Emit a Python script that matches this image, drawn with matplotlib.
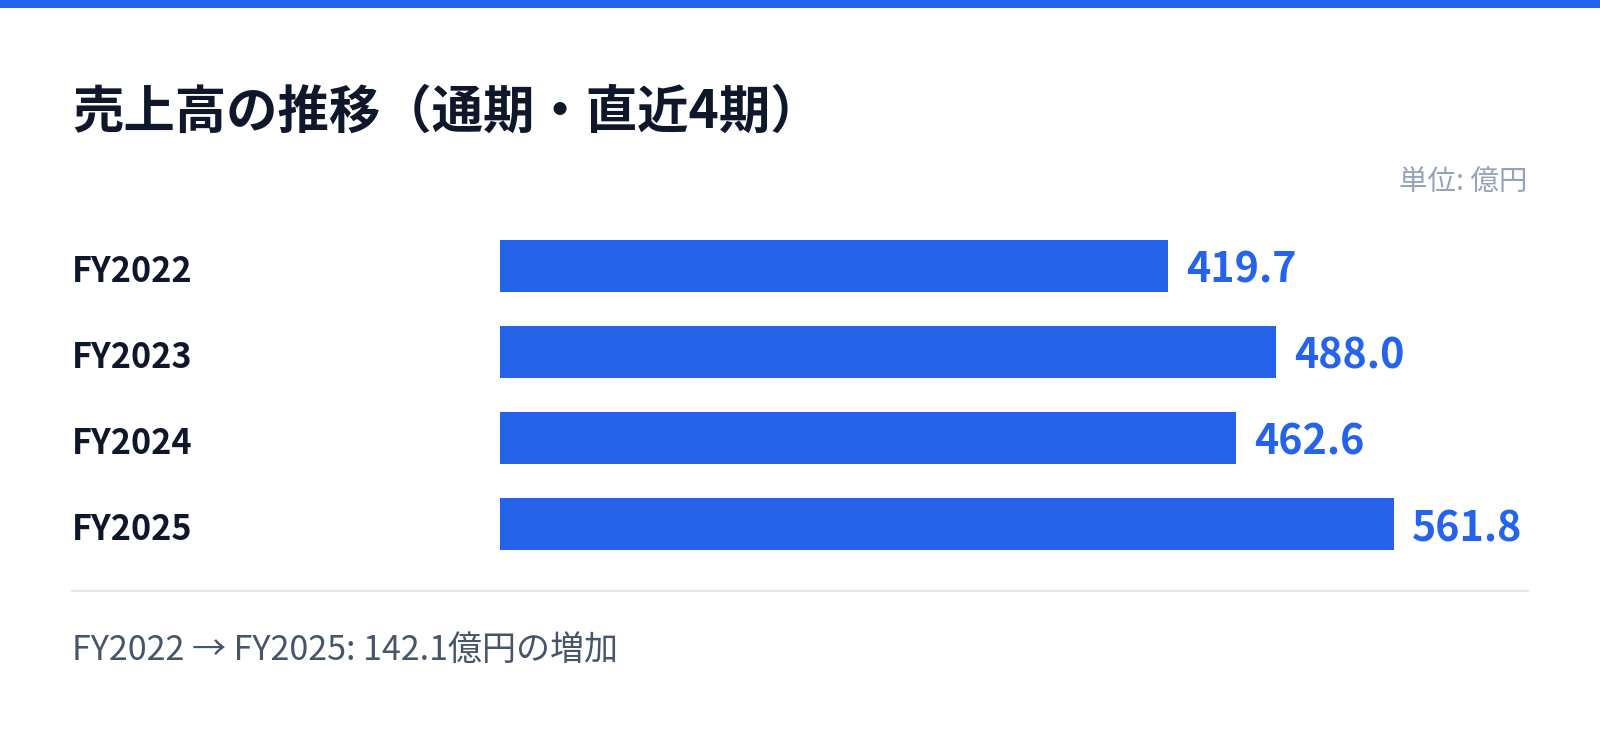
import matplotlib
matplotlib.use("Agg")
import matplotlib.pyplot as plt
from matplotlib.patches import Rectangle
from matplotlib.transforms import ScaledTranslation, blended_transform_factory

plt.rcParams["font.family"] = ["Noto Sans CJK JP", "DejaVu Sans"]

# data
years = ["FY2022", "FY2023", "FY2024", "FY2025"]
sales = [419.7, 488.0, 462.6, 561.8]
title = "売上高の推移（通期・直近4期）"
unit_label = "単位: 億円"
footer = "FY2022 → FY2025: 142.1億円の増加"

BLUE = "#2563eb"
DARK = "#0f172a"
W, H, DPI = 1600, 733, 100


def fx(x):
    return x / W


def fy(y):
    return 1 - y / H


fig = plt.figure(figsize=(W / DPI, H / DPI), dpi=DPI)
fig.patch.set_facecolor("white")

# top accent band
fig.patches.append(Rectangle((0, fy(8)), 1, 8 / H, transform=fig.transFigure,
                             facecolor=BLUE, edgecolor="none"))

fig.text(fx(72), fy(112), title, fontsize=37, fontweight="bold", color=DARK,
         ha="left", va="center")
fig.text(fx(1527), fy(183), unit_label, fontsize=20.5, color="#94a3b8",
         ha="right", va="center")

# bar area
ax = fig.add_axes([fx(500), fy(567), fx(1528) - fx(500), (567 - 223) / H])
ypos = list(range(len(years)))
ax.barh(ypos, sales, height=52 / 86, color=BLUE)
ax.set_xlim(0, max(sales) * 1.15)
ax.set_ylim(len(years) - 0.5, -0.5)
ax.axis("off")

lab_tr = blended_transform_factory(fig.transFigure, ax.transData) + \
    ScaledTranslation(0, -16 / DPI, fig.dpi_scale_trans)
val_tr = ax.transData + ScaledTranslation(18 / DPI, -17 / DPI, fig.dpi_scale_trans)
for i, (yr, v) in enumerate(zip(years, sales)):
    fig.text(fx(72), i, yr, transform=lab_tr, fontsize=24.6, fontweight="bold",
             color=DARK, ha="left", va="baseline")
    ax.text(v, i, f"{v:.1f}", transform=val_tr, fontsize=29.7, fontweight="bold",
            color=BLUE, ha="left", va="baseline", clip_on=False)

# separator and footer
fig.add_artist(plt.Line2D([fx(72), fx(1528)], [fy(591), fy(591)],
                          transform=fig.transFigure, color="#e2e8f0", linewidth=1.6))
fig.text(fx(72), fy(660), footer, fontsize=24.5, color="#475569",
         ha="left", va="baseline")

fig.savefig("out.png", dpi=DPI, facecolor="white")
